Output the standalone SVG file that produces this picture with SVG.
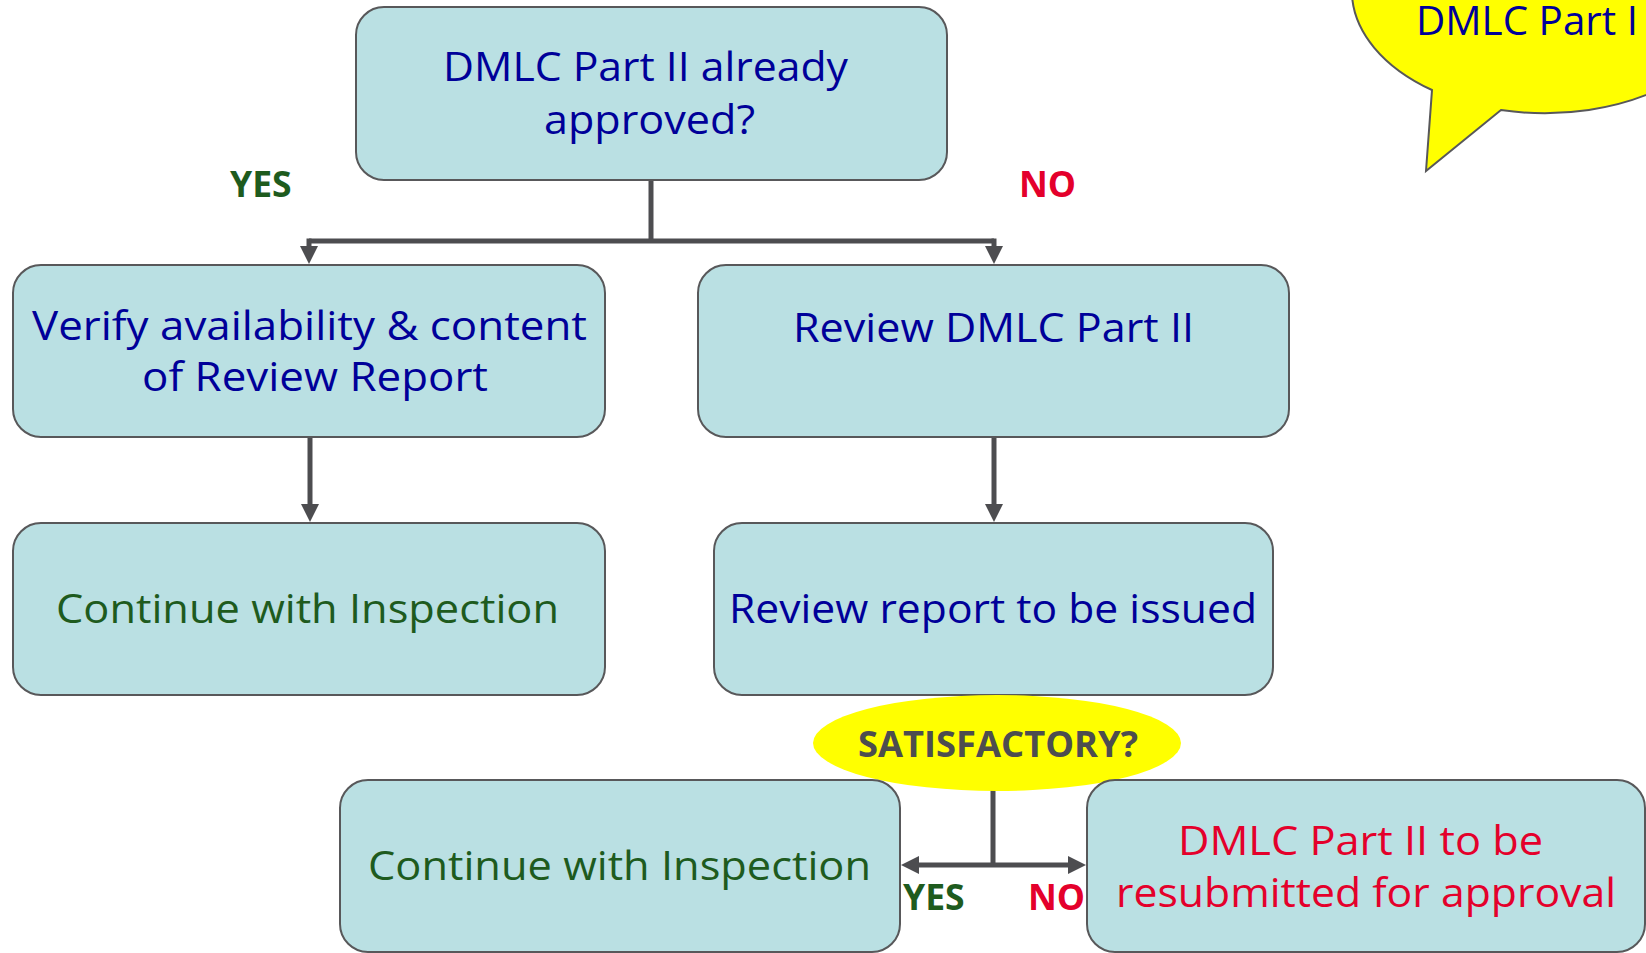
<svg xmlns="http://www.w3.org/2000/svg" width="1646" height="953" viewBox="0 0 1646 953">
<defs>
<style>
.box{fill:#BAE0E3;stroke:#58585A;stroke-width:2}
.t{font-family:"Open Sans","Noto Sans","Liberation Sans",sans-serif;font-size:41px}
.blue{fill:#000099}
.green{fill:#1E5B1E}
.red{fill:#E4002B}
.lbl{font-family:"Open Sans","Noto Sans","Liberation Sans",sans-serif;font-size:35.5px;font-weight:bold}
.conn{fill:none;stroke:#4D4D50;stroke-width:5}
</style>
<marker id="ah" markerUnits="userSpaceOnUse" markerWidth="18" markerHeight="18" refX="8" refY="9" orient="auto">
<path d="M0,0 L18,9 L0,18 Z" fill="#4D4D50"/>
</marker>
</defs>
<rect width="1646" height="953" fill="#FFFFFF"/>

<g id="bubble">
<path d="M1432,90 A193,123 0 1 1 1501,110 L1426,171 Z" fill="#FFFF00" stroke="#58585A" stroke-width="2" stroke-linejoin="miter"/>
<text class="t blue" x="1416" y="35" textLength="222" lengthAdjust="spacingAndGlyphs">DMLC Part I</text>
</g>

<g id="connectors">
<path class="conn" d="M651,180 V241"/>
<path class="conn" d="M309,241 H994"/>
<path class="conn" d="M309,238.5 V254" marker-end="url(#ah)"/>
<path class="conn" d="M994,238.5 V254" marker-end="url(#ah)"/>
<path class="conn" d="M310,437 V512" marker-end="url(#ah)"/>
<path class="conn" d="M994,437 V512" marker-end="url(#ah)"/>
<path class="conn" d="M993,695 V865"/>
<path class="conn" d="M993,865 H911" marker-end="url(#ah)"/>
<path class="conn" d="M993,865 H1076" marker-end="url(#ah)"/>
</g>

<g id="q-approved">
<rect class="box" x="356" y="7" width="591" height="173" rx="28"/>
<text class="t blue" x="645.5" y="81" text-anchor="middle" textLength="405" lengthAdjust="spacingAndGlyphs">DMLC Part II already</text>
<text class="t blue" x="649.5" y="134" text-anchor="middle" textLength="211" lengthAdjust="spacingAndGlyphs">approved?</text>
</g>

<g id="label-yes-top"><text class="lbl green" x="230" y="197">YES</text></g>
<g id="label-no-top"><text class="lbl red" x="1019" y="197">NO</text></g>

<g id="verify">
<rect class="box" x="13" y="265" width="592" height="172" rx="28"/>
<text class="t blue" x="309.5" y="340" text-anchor="middle" textLength="555" lengthAdjust="spacingAndGlyphs">Verify availability &amp; content</text>
<text class="t blue" x="315" y="391" text-anchor="middle" textLength="346" lengthAdjust="spacingAndGlyphs">of Review Report</text>
</g>

<g id="review">
<rect class="box" x="698" y="265" width="591" height="172" rx="28"/>
<text class="t blue" x="993.5" y="342" text-anchor="middle" textLength="401" lengthAdjust="spacingAndGlyphs">Review DMLC Part II</text>
</g>

<g id="continue1">
<rect class="box" x="13" y="523" width="592" height="172" rx="28"/>
<text class="t green" x="307.5" y="623" text-anchor="middle" textLength="503" lengthAdjust="spacingAndGlyphs">Continue with Inspection</text>
</g>

<g id="report-issued">
<rect class="box" x="714" y="523" width="559" height="172" rx="28"/>
<text class="t blue" x="993" y="623" text-anchor="middle" textLength="528" lengthAdjust="spacingAndGlyphs">Review report to be issued</text>
</g>

<g id="satisfactory">
<ellipse cx="997" cy="743" rx="184" ry="48" fill="#FFFF00"/>
<text class="lbl" fill="#4D4D4F" x="998" y="757" text-anchor="middle" textLength="280" lengthAdjust="spacingAndGlyphs">SATISFACTORY?</text>
</g>

<g id="continue2">
<rect class="box" x="340" y="780" width="560" height="172" rx="28"/>
<text class="t green" x="619.5" y="880" text-anchor="middle" textLength="503" lengthAdjust="spacingAndGlyphs">Continue with Inspection</text>
</g>

<g id="resubmit">
<rect class="box" x="1087" y="780" width="558" height="172" rx="28"/>
<text class="t red" x="1360.5" y="855" text-anchor="middle" textLength="365" lengthAdjust="spacingAndGlyphs">DMLC Part II to be</text>
<text class="t red" x="1366" y="907" text-anchor="middle" textLength="500" lengthAdjust="spacingAndGlyphs">resubmitted for approval</text>
</g>

<g id="label-yes-bottom"><text class="lbl green" x="903" y="910">YES</text></g>
<g id="label-no-bottom"><text class="lbl red" x="1028" y="910">NO</text></g>
</svg>
